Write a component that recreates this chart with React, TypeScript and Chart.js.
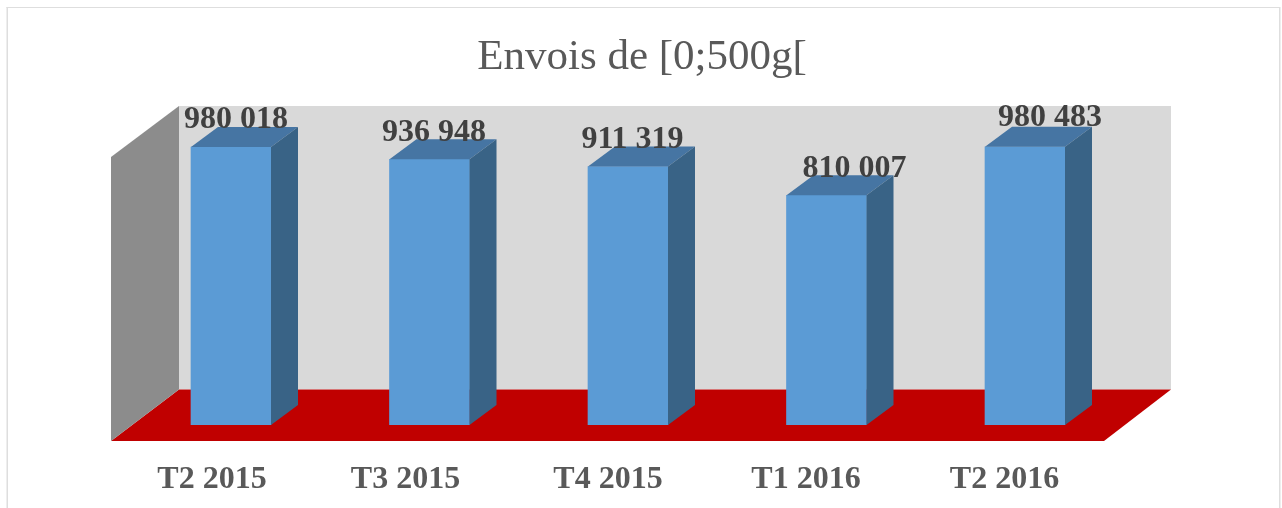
import React, { useEffect, useRef } from "react";
import { Chart, registerables } from "chart.js";

Chart.register(...registerables);

const categories = ["T2 2015", "T3 2015", "T4 2015", "T1 2016", "T2 2016"];
const envois = [980018, 936948, 911319, 810007, 980483];
const titleText = "Envois de [0;500g[";
const axisMax = 1124500;

const SERIF = "'Liberation Serif', 'Times New Roman', serif";
const BAR_DEPTH_X = 27;
const BAR_DEPTH_Y = 20;
const LABEL_NUDGE_X = [5, 4.5, 4.5, 28, 25];
const LABEL_NUDGE_Y = [-27, -26, -27, -26, -29];
const TICK_NUDGE_X = [1, -4, 0, -0.5, -0.5];

const fmt = (v: number) => {
  const s = String(v);
  return s.slice(0, s.length - 3) + " " + s.slice(-3);
};

const poly = (ctx: CanvasRenderingContext2D, pts: number[][], color: string) => {
  ctx.beginPath();
  pts.forEach(([x, y], i) => (i ? ctx.lineTo(x, y) : ctx.moveTo(x, y)));
  ctx.closePath();
  ctx.fillStyle = color;
  ctx.fill();
};

const scene3d = {
  id: "scene3d",
  beforeDraw(chart: any) {
    const { ctx, width, height, scales } = chart;
    ctx.save();
    ctx.fillStyle = "#ffffff";
    ctx.fillRect(0, 0, width, height);
    ctx.fillStyle = "#dedede";
    ctx.fillRect(6.5, 7, 1.5, height);
    ctx.fillRect(6.5, 7, 1273, 1);
    ctx.fillRect(1279, 7, 1.5, height);
    ctx.restore();
    scales.x.getLabelItems(chart.chartArea).forEach((item: any, i: number) => {
      item.options.translation = [item.options.translation[0] + TICK_NUDGE_X[i], item.options.translation[1]];
    });
  },
  beforeDatasetsDraw(chart: any) {
    const { ctx, chartArea: a, scales } = chart;
    const y0 = scales.y.getPixelForValue(0);
    const backX = a.left + 47.25;
    const backRight = a.right + 46.75;
    const backBottom = y0 - 35.5;
    const frontX = a.left - 20.75;
    const frontRight = a.right - 20.25;
    const frontBottom = y0 + 16;
    ctx.save();
    poly(ctx, [[backX, a.top], [backRight, a.top], [backRight, backBottom], [backX, backBottom]], "#d9d9d9");
    poly(ctx, [[backX, backBottom], [backRight, backBottom], [frontRight, frontBottom], [frontX, frontBottom]], "#c00000");
    poly(ctx, [[frontX, a.top + 51], [backX, a.top], [backX, backBottom], [frontX, frontBottom]], "#8c8c8c");
    ctx.restore();
  },
  afterDatasetsDraw(chart: any) {
    const { ctx } = chart;
    const meta = chart.getDatasetMeta(0);
    ctx.save();
    meta.data.forEach((bar: any) => {
      const hw = bar.width / 2;
      const l = bar.x - hw;
      const r = bar.x + hw;
      const t = bar.y;
      const b = bar.base;
      poly(ctx, [[l, t], [l + BAR_DEPTH_X, t - BAR_DEPTH_Y], [r + BAR_DEPTH_X, t - BAR_DEPTH_Y], [r, t]], "#4675a3");
      poly(ctx, [[r, t], [r + BAR_DEPTH_X, t - BAR_DEPTH_Y], [r + BAR_DEPTH_X, b - BAR_DEPTH_Y], [r, b]], "#396386");
    });
    ctx.font = `bold 32px ${SERIF}`;
    ctx.fillStyle = "#404040";
    ctx.textAlign = "center";
    ctx.textBaseline = "middle";
    meta.data.forEach((bar: any, i: number) => {
      ctx.fillText(fmt(envois[i]), bar.x + LABEL_NUDGE_X[i], bar.y + LABEL_NUDGE_Y[i]);
    });
    ctx.restore();
  },
};

const fixedSide = (w: number) => ({
  display: true,
  grid: { display: false },
  border: { display: false },
  ticks: { display: false },
  afterFit(s: any) {
    s.width = w;
  },
});

export default function App() {
  const ref = useRef<HTMLCanvasElement | null>(null);
  useEffect(() => {
    const chart = new Chart(ref.current as HTMLCanvasElement, {
      type: "bar",
      data: {
        labels: categories,
        datasets: [{ data: envois, backgroundColor: "#5b9bd5", barThickness: 80, borderWidth: 0 }],
      },
      options: {
        animation: false,
        responsive: false,
        layout: { padding: { left: 2, right: 0, top: 0, bottom: 0 } },
        plugins: {
          legend: { display: false },
          tooltip: { enabled: false },
          title: {
            display: true,
            text: titleText,
            color: "#595959",
            font: { family: SERIF, size: 43, weight: "normal", lineHeight: 1.2 },
            padding: { top: 32, bottom: 22.4 },
          },
        },
        scales: {
          x: {
            grid: { display: false },
            border: { display: false },
            ticks: {
              color: "#595959",
              font: { family: SERIF, size: 32, weight: "bold" },
              padding: 28,
              labelOffset: -20,
              autoSkip: false,
              maxRotation: 0,
            },
            afterFit(s: any) {
              s.height = 83;
            },
          },
          y: { ...fixedSide(129.75), min: 0, max: axisMax },
          y2: { ...fixedSide(157.75), position: "right", min: 0, max: axisMax },
        },
      } as any,
      plugins: [scene3d],
    });
    return () => chart.destroy();
  }, []);
  return (
    <div style={{ position: "fixed", left: 0, top: 0, width: 1282, height: 508 }}>
      <canvas ref={ref} width={1282} height={508} style={{ display: "block" }} />
    </div>
  );
}
